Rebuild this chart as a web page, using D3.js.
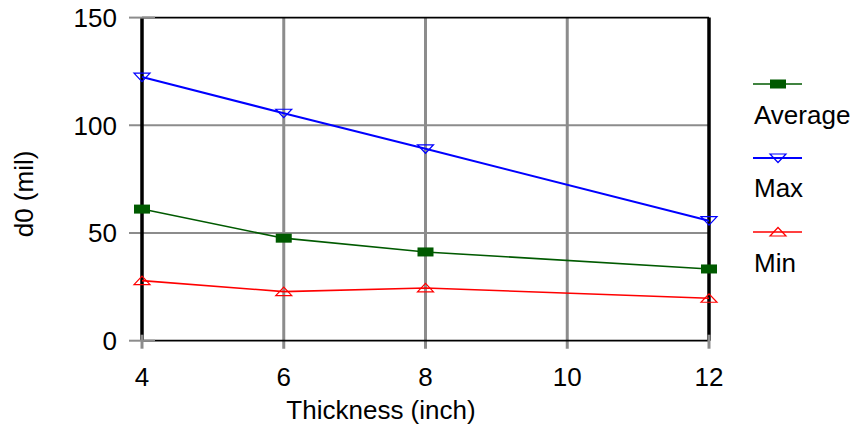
<!DOCTYPE html>
<html>
<head>
<meta charset="utf-8">
<script src="https://cdn.jsdelivr.net/npm/d3@7"></script>
<style>
  html, body { margin: 0; padding: 0; background: #fff; }
  svg { display: block; font-family: "Liberation Sans", Arial, sans-serif; }
</style>
</head>
<body>
<svg id="chart" width="854" height="429"></svg>
<script>
const thickness = [4, 6, 8, 12];
const averageValues = [61.1, 47.6, 41.2, 33.3];
const maxValues = [122.4, 105.6, 89.1, 55.7];
const minValues = [27.9, 22.8, 24.5, 19.7];
const xTicks = [4, 6, 8, 10, 12];
const yTicks = [0, 50, 100, 150];
const seriesNames = ["Average", "Max", "Min"];

const series = [
  { name: seriesNames[0], values: averageValues, color: "#005a00", marker: "square", width: 1.6 },
  { name: seriesNames[1], values: maxValues, color: "#0000ff", marker: "down", width: 2 },
  { name: seriesNames[2], values: minValues, color: "#ff0000", marker: "up", width: 1.6 }
];

const svg = d3.select("#chart");
const pL = 142, pR = 709, pT = 17.6, pB = 340.7;
const x = d3.scaleLinear().domain([4, 12]).range([pL, pR]);
const y = d3.scaleLinear().domain([0, 150]).range([pB, pT]);
const gray = "#8c8c8c";
const fs = 26;

// vertical grid lines (interior)
svg.append("g").selectAll("line").data(xTicks.filter(d => d > 4 && d < 12)).join("line")
  .attr("x1", d => x(d)).attr("x2", d => x(d))
  .attr("y1", pT).attr("y2", pB + 8)
  .attr("stroke", gray).attr("stroke-width", 3);

// horizontal grid lines (interior)
svg.append("g").selectAll("line").data(yTicks.filter(d => d > 0 && d < 150)).join("line")
  .attr("x1", pL - 13).attr("x2", pR)
  .attr("y1", d => y(d)).attr("y2", d => y(d))
  .attr("stroke", gray).attr("stroke-width", 2);

// frame: top/bottom thin black, left/right thick black
svg.append("line").attr("x1", pL).attr("x2", pR).attr("y1", pT).attr("y2", pT)
  .attr("stroke", "#000").attr("stroke-width", 1.8);
svg.append("line").attr("x1", pL).attr("x2", pR).attr("y1", pB).attr("y2", pB)
  .attr("stroke", "#000").attr("stroke-width", 1.8);
[pL, pR].forEach(px => {
  svg.append("line").attr("x1", px).attr("x2", px).attr("y1", pT).attr("y2", pB)
    .attr("stroke", "#000").attr("stroke-width", 3.5);
});

// y ticks at ends (gray)
svg.append("g").selectAll("line").data([0, 150]).join("line")
  .attr("x1", pL - 13).attr("x2", pL + 13)
  .attr("y1", d => y(d)).attr("y2", d => y(d))
  .attr("stroke", gray).attr("stroke-width", 2);
// x ticks at ends (gray)
svg.append("g").selectAll("line").data([4, 12]).join("line")
  .attr("x1", d => x(d)).attr("x2", d => x(d))
  .attr("y1", pB - 6).attr("y2", pB + 8)
  .attr("stroke", gray).attr("stroke-width", 3);

// y tick labels
svg.append("g").selectAll("text").data(yTicks).join("text")
  .attr("x", 117).attr("y", d => y(d)).attr("dy", "0.36em")
  .attr("text-anchor", "end").attr("font-size", fs).attr("fill", "#000")
  .text(d => d);

// x tick labels
svg.append("g").selectAll("text").data(xTicks).join("text")
  .attr("x", d => x(d)).attr("y", 386)
  .attr("text-anchor", "middle").attr("font-size", fs).attr("fill", "#000")
  .text(d => d);

// axis titles
svg.append("text").attr("x", 381).attr("y", 419).attr("text-anchor", "middle")
  .attr("font-size", fs).text("Thickness (inch)");
svg.append("text").attr("transform", "translate(33,194) rotate(-90)")
  .attr("text-anchor", "middle").attr("font-size", fs).text("d0 (mil)");

function drawMarker(g, type, cx, cy, color) {
  if (type === "square") {
    g.append("rect").attr("x", cx - 8).attr("y", cy - 4.5).attr("width", 16).attr("height", 9)
      .attr("fill", color);
  } else if (type === "down") {
    g.append("path").attr("d", `M${cx - 8},${cy - 4}L${cx + 8},${cy - 4}L${cx},${cy + 4.5}Z`)
      .attr("fill", "none").attr("stroke", color).attr("stroke-width", 1.2);
  } else {
    g.append("path").attr("d", `M${cx - 8},${cy + 4}L${cx + 8},${cy + 4}L${cx},${cy - 4.5}Z`)
      .attr("fill", "none").attr("stroke", color).attr("stroke-width", 1.2);
  }
}

const line = d3.line().x(d => x(d[0])).y(d => y(d[1]));
series.forEach(s => {
  const pts = thickness.map((t, i) => [t, s.values[i]]);
  svg.append("path").datum(pts).attr("d", line)
    .attr("fill", "none").attr("stroke", s.color).attr("stroke-width", s.width);
  const g = svg.append("g");
  pts.forEach(p => drawMarker(g, s.marker, x(p[0]), y(p[1]), s.color));
});

// legend
const legendLineY = [84, 158, 232];
const legendTextY = [124, 197, 272];
series.forEach((s, i) => {
  const g = svg.append("g");
  g.append("line").attr("x1", 753).attr("x2", 802)
    .attr("y1", legendLineY[i]).attr("y2", legendLineY[i])
    .attr("stroke", s.color).attr("stroke-width", s.width);
  drawMarker(g, s.marker, 778, legendLineY[i], s.color);
  g.append("text").attr("x", 754).attr("y", legendTextY[i])
    .attr("font-size", fs).attr("fill", "#000").text(s.name);
});
</script>
</body>
</html>
